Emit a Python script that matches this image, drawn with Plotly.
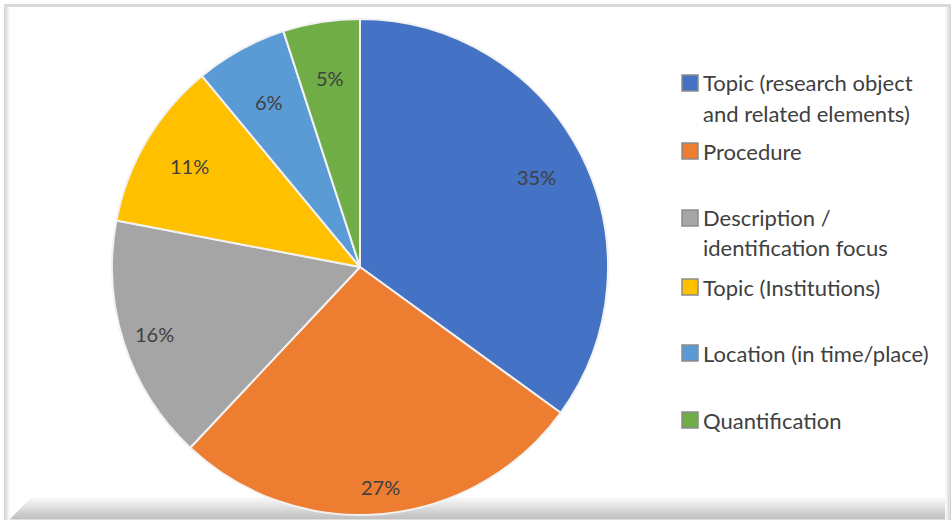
import math
import plotly.graph_objects as go

# Share of coded statements per category
categories = [
    "Topic (research object and related elements)",
    "Procedure",
    "Description / identification focus",
    "Topic (Institutions)",
    "Location (in time/place)",
    "Quantification",
]
legend_lines = [
    ["Topic (research object", "and related elements)"],
    ["Procedure"],
    ["Description /", "identification focus"],
    ["Topic (Institutions)"],
    ["Location (in time/place)"],
    ["Quantification"],
]
values = [35, 27, 16, 11, 6, 5]
colors = ["#4472C4", "#ED7D31", "#A5A5A5", "#FFC000", "#5B9BD5", "#70AD47"]

W, H = 951, 525
CX, CY, R = 360, 267, 248  # pie centre and radius in pixels

def px(x):
    return x / W

def py(y):
    return 1 - y / H

fig = go.Figure()
fig.add_trace(go.Pie(
    labels=categories,
    values=values,
    sort=False,
    direction="clockwise",
    rotation=0,
    marker=dict(colors=colors, line=dict(color="#f2f2f2", width=2)),
    textinfo="none",
    hoverinfo="label+percent",
    showlegend=False,
    domain=dict(x=[px(CX - R), px(CX + R)], y=[py(CY + R), py(CY - R)]),
))

annotations = []
shapes = []

# Percentage labels placed along each slice's mid angle
label_radius = [0.80, 0.89, 0.87, 0.80, 0.76, 0.77]
total = sum(values)
cum = 0
for v, rf in zip(values, label_radius):
    mid = (cum + v / 2) / total * 2 * math.pi
    cum += v
    lx = CX + rf * R * math.sin(mid)
    ly = CY - rf * R * math.cos(mid)
    annotations.append(dict(
        x=px(lx), y=py(ly), xref="paper", yref="paper",
        text=f"{round(v / total * 100)}%", showarrow=False,
        font=dict(family="Lato, sans-serif", size=20, color="#404040"),
        xanchor="center", yanchor="middle",
    ))

# Legend drawn beside the pie
legend_rows = [83, 151, 218, 287, 353, 420]
line_gap = 30
for lines, col, y0 in zip(legend_lines, colors, legend_rows):
    shapes.append(dict(
        type="rect", xref="paper", yref="paper",
        x0=px(682), x1=px(698), y0=py(y0 + 8), y1=py(y0 - 8),
        fillcolor=col, line=dict(color="#8c8c8c", width=1.5),
    ))
    for k, t in enumerate(lines):
        annotations.append(dict(
            x=px(701), y=py(y0 + k * line_gap), xref="paper", yref="paper",
            text=t, showarrow=False, xanchor="left", yanchor="middle",
            font=dict(family="Lato, sans-serif", size=22, color="#404040"),
        ))

# Chart frame: top rule, side edges and bevelled bottom (kept under the pie)
shapes.append(dict(type="rect", xref="paper", yref="paper", layer="below",
                   x0=px(4), x1=px(951), y0=py(7), y1=py(4),
                   fillcolor="#d9d9d9", line=dict(width=0)))
for i, c in enumerate(["#d0d0d0", "#dedede", "#ececec", "#f6f6f6"]):
    shapes.append(dict(type="rect", xref="paper", yref="paper", layer="below",
                       x0=px(4 + i * 1.5), x1=px(5.5 + i * 1.5), y0=py(520), y1=py(7),
                       fillcolor=c, line=dict(width=0)))
    shapes.append(dict(type="rect", xref="paper", yref="paper", layer="below",
                       x0=px(949.5 - i * 1.5), x1=px(951 - i * 1.5), y0=py(520), y1=py(7),
                       fillcolor=c, line=dict(width=0)))
steps = 12
for i in range(steps):
    ya = 497 + i * 22 / steps
    yb = ya + 22 / steps + 0.5
    g = int(255 - (255 - 192) * (i + 1) / steps)
    c = f"rgb({g},{g},{g})"
    xl = 10 + (519 - ya) * 1.0
    shapes.append(dict(
        type="path", xref="paper", yref="paper", layer="below",
        path=f"M {px(xl)},{py(ya)} L {px(945)},{py(ya)} L {px(945)},{py(yb)} L {px(xl - (yb - ya))},{py(yb)} Z",
        fillcolor=c, line=dict(width=0),
    ))

fig.update_layout(
    width=W, height=H,
    margin=dict(l=0, r=0, t=0, b=0),
    paper_bgcolor="white",
    plot_bgcolor="white",
    annotations=annotations,
    shapes=shapes,
)

fig.write_html("out.html")
